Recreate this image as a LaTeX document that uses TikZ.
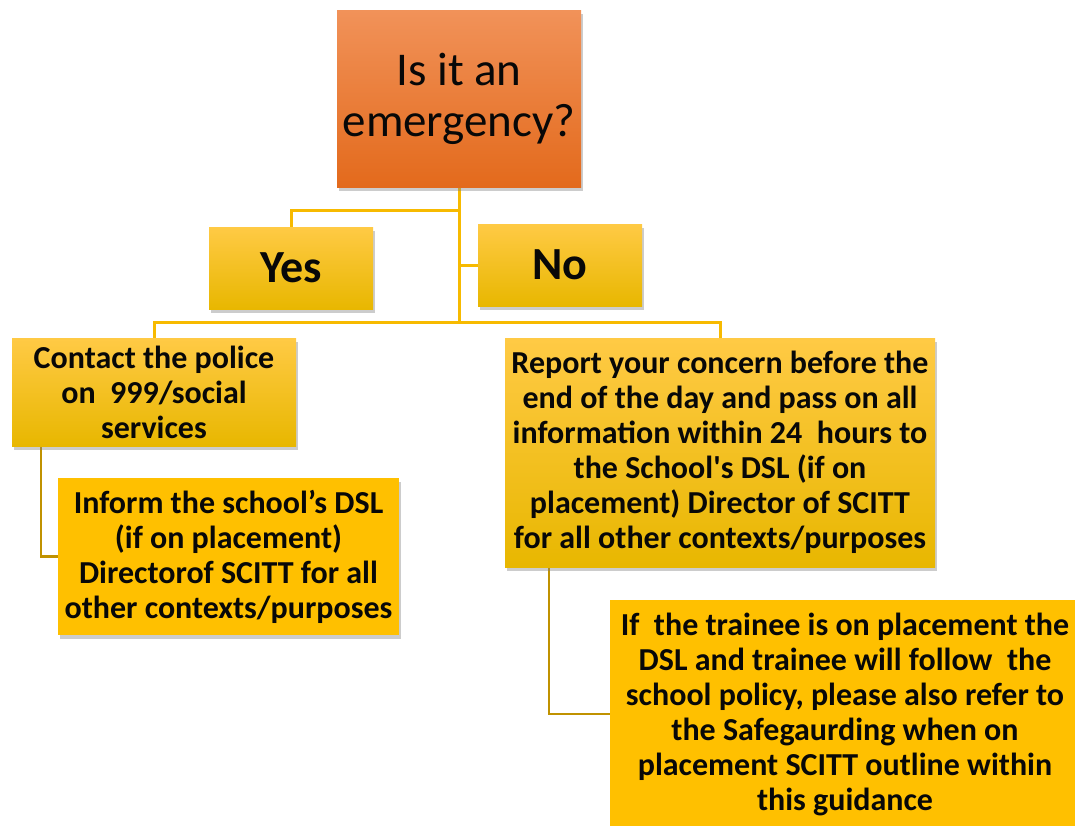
\documentclass[tikz,border=0pt]{standalone}
\usepackage{fontspec}
\setmainfont{Carlito}
\newfontfamily\straightq{Carlito}
\usetikzlibrary{shadows,backgrounds}
\definecolor{ytop}{HTML}{FFCA45}
\definecolor{ymid}{HTML}{FFC000}
\definecolor{ybot}{HTML}{E8B700}
\definecolor{otop}{HTML}{F19259}
\definecolor{omid}{HTML}{F47A2C}
\definecolor{obot}{HTML}{E36A1C}
\definecolor{lineA}{HTML}{F7BA00}
\definecolor{lineB}{HTML}{C09200}
\definecolor{txt}{HTML}{080808}
\begin{document}
\begin{tikzpicture}[x=1pt,y=-1pt,
  boxbase/.style={rectangle, inner sep=0pt, align=center, text=txt,
    drop shadow={opacity=0.4, shadow xshift=2pt, shadow yshift=-4pt}},
  ybox/.style={boxbase, top color=ytop, middle color=ymid, bottom color=ybot,
    font=\bfseries\fontsize{32}{35}\selectfont},
  flatbox/.style={boxbase, fill=ymid,
    font=\bfseries\fontsize{32}{35}\selectfont},
  obox/.style={boxbase, top color=otop, middle color=omid, bottom color=obot,
    font=\fontsize{47}{51}\selectfont},
  bigbox/.style={ybox, font=\bfseries\fontsize{46}{50}\selectfont},
  connA/.style={draw=lineA, line width=3pt},
  connB/.style={draw=lineB, line width=2.5pt},
]
\useasboundingbox (0,0) rectangle (1075,825);

\node[obox, minimum width=244pt, minimum height=177pt] (q) at (459,98.5) {Is it an\\emergency?};
\node[bigbox, minimum width=164pt, minimum height=82pt] (yes) at (291,268) {Yes};
\node[bigbox, minimum width=164pt, minimum height=82pt] (no) at (560,265) {No};
\node[ybox, minimum width=284pt, minimum height=108pt] (c) at (154,392)
  {Contact the police\\on\ \ 999/social\\services};
\node[ybox, minimum width=430pt, minimum height=229pt] (r) at (720,452.5)
  {Report your concern before the\\end of the day and pass on all\\information within 24\ \ hours to\\the School{\straightq\bfseries'}s DSL (if on\\placement) Director of SCITT\\for all other contexts/purposes};
\node[flatbox, minimum width=341pt, minimum height=157pt] (i) at (228.5,556.5)
  {Inform the school’s DSL\\(if on placement)\\Directorof SCITT for all\\other contexts/purposes};
\node[flatbox, minimum width=470pt, minimum height=228pt] (t) at (845,714)
  {If\ \ the trainee is on placement the\\DSL and trainee will follow\ \ the\\school policy, please also refer to\\the Safegaurding when on\\placement SCITT outline within\\this guidance};

\coordinate (j1) at (459,210);
\coordinate (j2) at (459,322);
\coordinate (cs) at (41,446);
\coordinate (rs) at (549,567);

\begin{scope}[on background layer]
  \fill[white] (0,0) rectangle (1075,825);
  \draw[connA] (q.south) -- (j2);
  \draw[connA] (j1) -| (yes.north);
  \draw[connA] (no.west) -- (no.west -| j1);
  \draw[connA] (j2) -| (c.north);
  \draw[connA] (j2) -| (r.north);
  \draw[connB] (cs) |- (i.west);
  \draw[connB] (rs) |- (t.west);
\end{scope}
\end{tikzpicture}
\end{document}
